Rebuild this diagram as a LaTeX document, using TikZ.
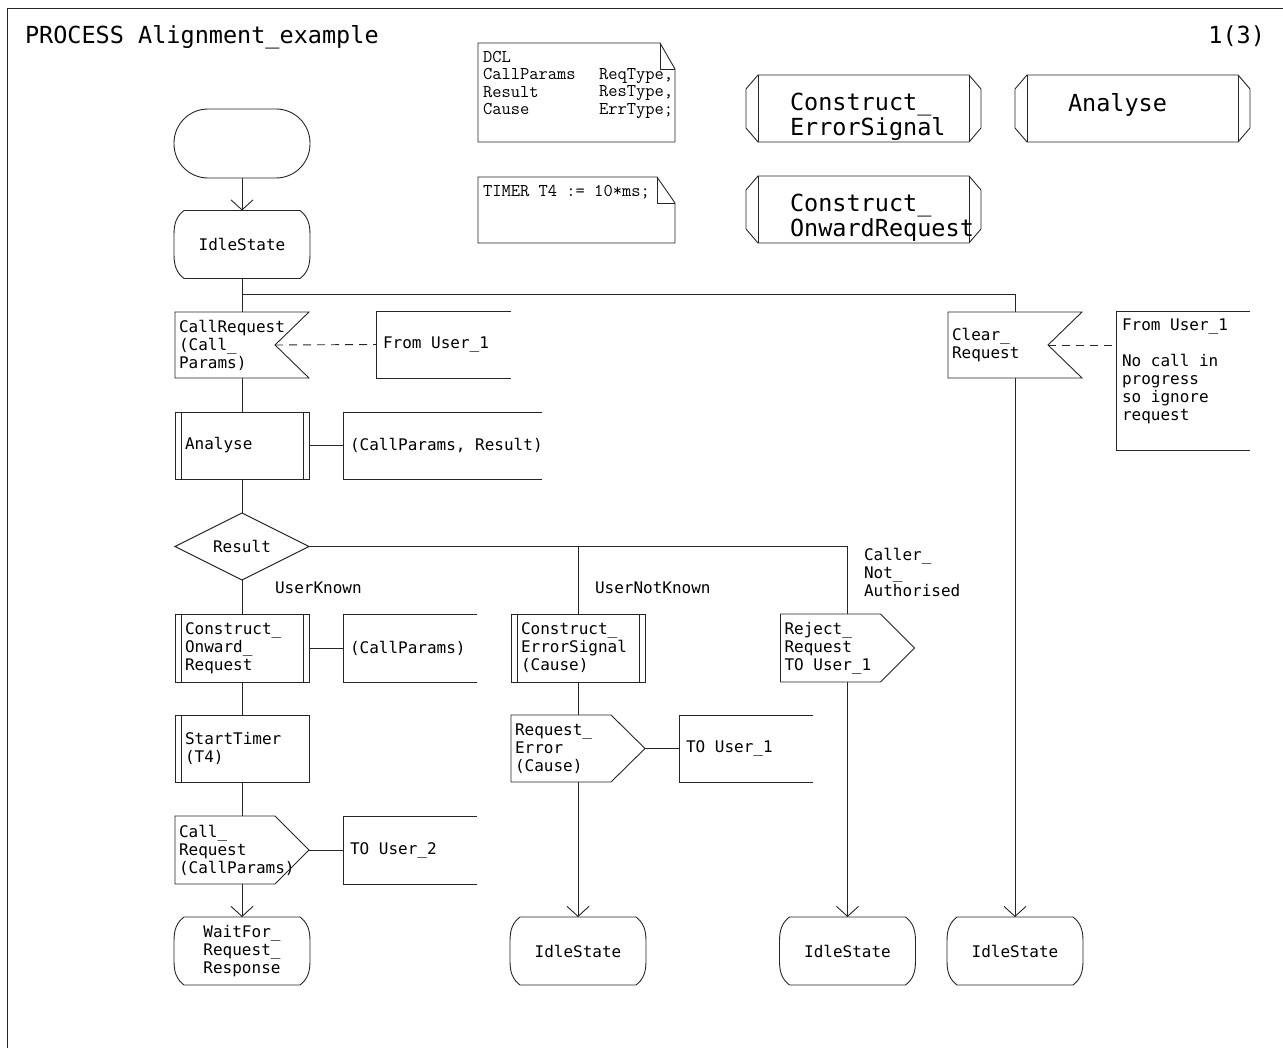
\documentclass[tikz,border=0pt]{standalone}
\usepackage{fontspec}
\usetikzlibrary{arrows.meta}
\newfontfamily\sdlmono{DejaVu Sans Mono}
\newcommand\sdlsmall{\sdlmono\fontsize{16}{18}\selectfont}
\newcommand\sdlbig{\sdlmono\fontsize{23.5}{25}\selectfont}
\newcommand\dclfont{\ttfamily\fontsize{18}{17.4}\selectfont}

\tikzset{
  ln/.style={draw=black!85, line width=0.9pt},
  sym/.style={ln, line join=miter},
  flow/.style={ln},
  flowarrow/.style={ln, -{Straight Barb[length=10pt,width=22pt]}},
  dashedlink/.style={ln, dash pattern=on 8pt off 6pt},
  sdlbox/.style={rectangle, draw=none, inner ysep=0pt, outer sep=0pt, font=\sdlsmall, align=flush left},
  inbox/.style={sdlbox, minimum width=134pt, minimum height=66pt, inner xsep=4pt, text width=126pt},
  procbox/.style={sdlbox, minimum width=134pt, minimum height=67pt, inner xsep=10pt, text width=114pt},
  statebox/.style={sdlbox, minimum width=136pt, minimum height=68pt, inner xsep=0pt, align=center},
  cmtbox/.style={sdlbox, minimum height=67pt, inner xsep=7pt, text width=#1},
  refbox/.style={rectangle, draw=none, inner sep=0pt, outer sep=0pt, minimum width=235pt, minimum height=67pt},
  txtbox/.style={rectangle, draw=none, inner sep=0pt, outer sep=0pt, minimum width=197pt},
  plain/.style={inner sep=0pt, outer sep=0pt, align=left},
}

% SDL symbol outlines, drawn round a named node
\newcommand\sdlState[1]{%
  \draw[sym] ([xshift=10pt]#1.north west)
    .. controls ([xshift=2pt,yshift=-6pt]#1.north west) and ([yshift=-14pt]#1.north west) .. ([yshift=-24pt]#1.north west)
    -- ([yshift=24pt]#1.south west)
    .. controls ([yshift=14pt]#1.south west) and ([xshift=2pt,yshift=6pt]#1.south west) .. ([xshift=10pt]#1.south west)
    -- ([xshift=-10pt]#1.south east)
    .. controls ([xshift=-2pt,yshift=6pt]#1.south east) and ([yshift=14pt]#1.south east) .. ([yshift=24pt]#1.south east)
    -- ([yshift=-24pt]#1.north east)
    .. controls ([yshift=-14pt]#1.north east) and ([xshift=-2pt,yshift=-6pt]#1.north east) .. ([xshift=-10pt]#1.north east)
    -- cycle;}
\newcommand\sdlInput[1]{\draw[sym] (#1.north west) -- (#1.north east) -- ([xshift=-34pt]#1.east) -- (#1.south east) -- (#1.south west) -- cycle;}
\newcommand\sdlOutput[1]{\draw[sym] (#1.north west) -- ([xshift=-34pt]#1.north east) -- (#1.east) -- ([xshift=-34pt]#1.south east) -- (#1.south west) -- cycle;}
\newcommand\sdlProc[1]{\draw[sym] (#1.north west) rectangle (#1.south east);
  \draw[sym] ([xshift=6pt]#1.north west) -- ([xshift=6pt]#1.south west);
  \draw[sym] ([xshift=-6pt]#1.north east) -- ([xshift=-6pt]#1.south east);}
\newcommand\sdlMacro[1]{\draw[sym] (#1.north west) rectangle (#1.south east);
  \draw[sym] ([xshift=6pt]#1.north west) -- ([xshift=6pt]#1.south west);}
\newcommand\sdlComment[1]{\draw[sym] (#1.north east) -- (#1.north west) -- (#1.south west) -- (#1.south east);}
\newcommand\sdlDecision[1]{\draw[sym] (#1.north) -- (#1.east) -- (#1.south) -- (#1.west) -- cycle;}
\newcommand\sdlText[3]{\draw[sym] (#1.north west) -- ([xshift=-#2]#1.north east) -- ([yshift=-#3]#1.north east) -- (#1.south east) -- (#1.south west) -- cycle;
  \draw[sym] ([xshift=-#2]#1.north east) |- ([yshift=-#3]#1.north east);}
\newcommand\sdlRef[1]{\draw[sym] ([xshift=12pt]#1.north west) -- ([xshift=-12pt]#1.north east) -- ([yshift=-14pt]#1.north east)
  -- ([yshift=14pt]#1.south east) -- ([xshift=-12pt]#1.south east) -- ([xshift=12pt]#1.south west)
  -- ([yshift=14pt]#1.south west) -- ([yshift=-14pt]#1.north west) -- cycle;
  \draw[sym] ([xshift=12pt]#1.north west) -- ([xshift=12pt]#1.south west);
  \draw[sym] ([xshift=-12pt]#1.north east) -- ([xshift=-12pt]#1.south east);}

\begin{document}
\begin{tikzpicture}[x=1pt,y=-1pt]
\useasboundingbox (0,0) rectangle (1283,1048);
\fill[white] (0,0) rectangle (1283,1048);

% page frame and heading
\draw[ln] (7,1048) -- (7,8) -- (1283,8);
\node[plain, font=\sdlbig, anchor=base west] (title) at (25,44) {PROCESS Alignment\_example};
\node[plain, font=\sdlbig, anchor=base east] (page) at (1265,44) {1(3)};

% declarations
\node[txtbox, minimum height=99pt] (dcl) at (576.5,92.5) {};
\sdlText{dcl}{15pt}{26pt}
\node[plain, font=\dclfont, anchor=north west] (dclNames) at (483,51) {DCL\\CallParams\\Result\\Cause};
\node[plain, font=\dclfont, anchor=north west] (dclTypes) at (599,68.4) {ReqType,\\ResType,\\ErrType;};
\node[txtbox, minimum height=66pt] (tmr) at (576.5,210) {};
\sdlText{tmr}{18pt}{26pt}
\node[plain, font=\dclfont, anchor=base west] (tmrText) at (483,197) {TIMER T4 := 10*ms;};

% procedure references
\node[refbox] (refCes) at (863.5,108.5) {};
\sdlRef{refCes}
\node[plain, font=\sdlbig, anchor=north west] (refCesText) at (790,93.5) {Construct\_\\ErrorSignal};
\node[refbox] (refAn) at (1132.5,108.5) {};
\sdlRef{refAn}
\node[plain, font=\sdlbig, anchor=north west] (refAnText) at (1068,93.5) {Analyse};
\node[refbox] (refCor) at (863.5,209.5) {};
\sdlRef{refCor}
\node[plain, font=\sdlbig, anchor=north west] (refCorText) at (790,194.5) {Construct\_\\OnwardRequest};

% main flow
\node[ln, rounded corners=34pt, minimum width=136pt, minimum height=69pt] (start) at (242,143.5) {};
\node[statebox] (idle1) at (242,244.5) {IdleState};
\sdlState{idle1}
\coordinate (fork1) at (242,294);
\node[inbox] (callreq) at (242,345) {CallRequest\\(Call\_\\Params)};
\sdlInput{callreq}
\coordinate (callreqNotch) at ([xshift=-34pt]callreq.east);
\node[cmtbox=121pt] (cmtCallreq) at (443.5,344.5) {From User\_1};
\sdlComment{cmtCallreq}

\node[inbox] (clrreq) at (1015,345) {Clear\_\\Request};
\sdlInput{clrreq}
\coordinate (clrNotch) at ([xshift=-34pt]clrreq.east);
\node[cmtbox=120pt, minimum height=139pt] (cmtClr) at (1183,380.5) {};
\sdlComment{cmtClr}
\node[plain, font=\sdlsmall, anchor=north west] (cmtClrText) at (1122,319) {From User\_1\\[18pt]No call in\\progress\\so ignore\\request};

\node[procbox] (analyse) at (242,445.5) {Analyse};
\sdlProc{analyse}
\node[cmtbox=185pt] (cmtAnalyse) at (442.5,445.5) {\mbox{(CallParams, Result)}};
\sdlComment{cmtAnalyse}

\node[sdlbox, align=center, minimum width=134pt, minimum height=67pt] (result) at (242,546.5) {Result};
\sdlDecision{result}
\node[plain, font=\sdlsmall, anchor=west] (lblKnown) at (275,588) {UserKnown};
\node[plain, font=\sdlsmall, anchor=west] (lblUnknown) at (595,588) {UserNotKnown};
\node[plain, font=\sdlsmall, anchor=west] (lblNotAuth) at (864,572.5) {Caller\_\\Not\_\\Authorised};

\node[procbox, minimum height=68pt] (conow) at (242,648) {Construct\_\\Onward\_\\Request};
\sdlProc{conow}
\node[cmtbox=120pt, minimum height=68pt] (cmtConow) at (410,648) {(CallParams)};
\sdlComment{cmtConow}
\node[procbox] (starttmr) at (242,748.5) {StartTimer\\(T4)};
\sdlMacro{starttmr}
\node[inbox, minimum height=68pt] (callout) at (242,850) {Call\_\\Request\\(CallParams)};
\sdlOutput{callout}
\node[cmtbox=120pt, minimum height=68pt] (cmtCallout) at (410,850) {TO User\_2};
\sdlComment{cmtCallout}
\node[statebox] (wait) at (242,951) {WaitFor\_\\Request\_\\Response};
\sdlState{wait}

\node[procbox, minimum height=68pt] (conerr) at (578,648) {Construct\_\\ErrorSignal\\(Cause)};
\sdlProc{conerr}
\node[inbox, minimum height=67pt] (reqerr) at (578,748.5) {Request\_\\Error\\(Cause)};
\sdlOutput{reqerr}
\node[cmtbox=120pt] (cmtReqerr) at (746,748.5) {TO User\_1};
\sdlComment{cmtReqerr}
\node[statebox] (idle2) at (578,951) {IdleState};
\sdlState{idle2}

\node[inbox, minimum height=68pt] (reject) at (847.5,648) {Reject\_\\Request\\TO User\_1};
\sdlOutput{reject}
\node[statebox] (idle3) at (847.5,951) {IdleState};
\sdlState{idle3}
\node[statebox] (idle4) at (1015,951) {IdleState};
\sdlState{idle4}

% connectors
\draw[flowarrow] (start.south) -- (idle1.north);
\draw[flow] (idle1.south) -- (callreq.north);
\draw[flow] (fork1) -| (clrreq.north);
\draw[dashedlink] (callreqNotch) -- (cmtCallreq.west);
\draw[dashedlink] (clrNotch) -- (clrNotch -| cmtClr.west);
\draw[flowarrow] (clrreq.south) -- (idle4.north);
\draw[flow] (callreq.south) -- (analyse.north);
\draw[flow] (analyse.east) -- (cmtAnalyse.west);
\draw[flow] (analyse.south) -- (result.north);
\draw[flow] (result.south) -- (conow.north);
\draw[flow] (result.east) -- (reject.north |- result.east) -- (reject.north);
\draw[flow] (conerr.north |- result.east) -- (conerr.north);
\draw[flow] (conow.east) -- (cmtConow.west);
\draw[flow] (conow.south) -- (starttmr.north);
\draw[flow] (starttmr.south) -- (callout.north);
\draw[flow] (callout.east) -- (cmtCallout.west);
\draw[flowarrow] (callout.south) -- (wait.north);
\draw[flow] (conerr.south) -- (reqerr.north);
\draw[flow] (reqerr.east) -- (cmtReqerr.west);
\draw[flowarrow] (reqerr.south) -- (idle2.north);
\draw[flowarrow] (reject.south) -- (idle3.north);
\end{tikzpicture}
\end{document}
